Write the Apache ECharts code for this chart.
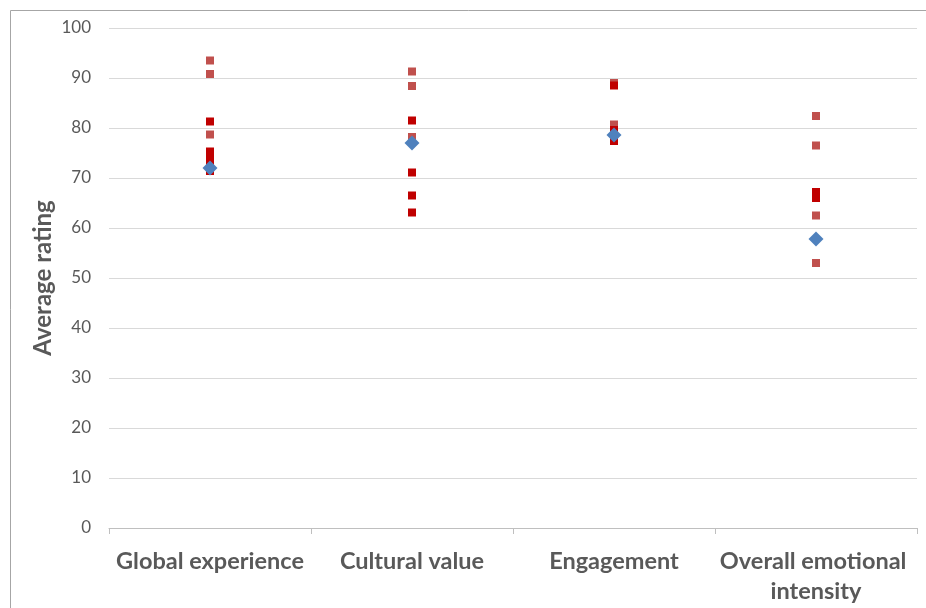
<!DOCTYPE html>
<html>
<head>
<meta charset="utf-8">
<script src="https://cdn.jsdelivr.net/npm/echarts@6/dist/echarts.min.js"></script>
<style>
html,body{margin:0;padding:0;background:#fff;}
#chart{width:926px;height:608px;}
</style>
</head>
<body>
<div id="chart"></div>
<script>
const categories = ['Global experience', 'Cultural value', 'Engagement', 'Overall emotional intensity'];
const yTicks = [0, 10, 20, 30, 40, 50, 60, 70, 80, 90, 100];

// individual ratings, light red markers
const lightValues = [
  [93.5, 90.8, 78.7],
  [91.3, 88.4, 78.2],
  [89.0, 80.7],
  [82.4, 76.5, 62.5, 53.0]
];
// individual ratings, dark red markers
const darkValues = [
  [81.3, 75.3, 74.5, 73.7, 72.8, 71.4],
  [81.5, 71.1, 66.5, 63.1],
  [88.5, 79.6, 77.4],
  [67.2, 66.0]
];
// averages, blue diamonds
const averageValues = [72, 77, 78.6, 57.8];

function pairs(groups) {
  const out = [];
  groups.forEach((vals, i) => vals.forEach(v => out.push([categories[i], v])));
  return out;
}

const chart = echarts.init(document.getElementById('chart'), null, {renderer: 'canvas'});
const font = 'Lato, "Open Sans", sans-serif';
chart.setOption({
  animation: false,
  graphic: [{
    type: 'rect', silent: true,
    shape: {x: 10.5, y: 10.5, width: 1000, height: 1000},
    style: {fill: 'none', stroke: '#A6A6A6', lineWidth: 1}
  }],
  grid: {left: 109, right: 9, top: 28, bottom: 80},
  xAxis: {
    type: 'category',
    data: categories,
    boundaryGap: true,
    axisLine: {lineStyle: {color: '#BFBFBF', width: 1}},
    axisTick: {show: true, length: 6, lineStyle: {color: '#BFBFBF'}},
    axisLabel: {
      color: '#595959', fontSize: 23.5, fontWeight: 'bold', fontFamily: font,
      margin: 18, lineHeight: 30, width: 200, overflow: 'break', interval: 0
    },
    splitLine: {show: false}
  },
  yAxis: {
    type: 'value', min: yTicks[0], max: yTicks[yTicks.length - 1], interval: 10,
    name: 'Average rating', nameLocation: 'middle', nameGap: 54, nameMoveOverlap: false,
    nameTextStyle: {color: '#595959', fontSize: 24, fontWeight: 'bold', fontFamily: font},
    axisLine: {show: false},
    axisTick: {show: false},
    axisLabel: {color: '#595959', fontSize: 17, fontFamily: font, margin: 18},
    splitLine: {lineStyle: {color: '#D9D9D9', width: 1}}
  },
  series: [
    {
      type: 'scatter', name: 'light', data: pairs(lightValues),
      symbol: 'rect', symbolSize: 8,
      itemStyle: {color: '#C0504D', opacity: 1}, z: 2
    },
    {
      type: 'scatter', name: 'dark', data: pairs(darkValues),
      symbol: 'rect', symbolSize: 8,
      itemStyle: {color: '#C00000', opacity: 1}, z: 3
    },
    {
      type: 'scatter', name: 'average',
      data: averageValues.map((v, i) => [categories[i], v]),
      symbol: 'diamond', symbolSize: 15,
      itemStyle: {color: '#4F81BD', opacity: 1}, z: 4
    }
  ]
});
</script>
</body>
</html>
